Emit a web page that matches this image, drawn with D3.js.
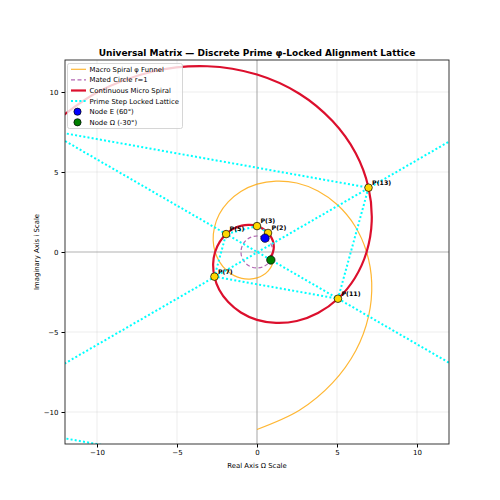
<!DOCTYPE html>
<html>
<head>
<meta charset="utf-8">
<script src="https://cdn.jsdelivr.net/npm/d3@7"></script>
<style>
  body { margin: 0; background: #fff; }
  text { font-family: "DejaVu Sans", sans-serif; }
</style>
</head>
<body>
<svg id="chart" width="500" height="500"></svg>
<script>
// micro spiral (x, y in data units)
let microSpiral = [
  [0.74, -0.43], [0.89, -0.24], [1.00, 0.00], [1.05, 0.28], [1.02, 0.59], [0.90, 0.90],
  [0.69, 1.19], [0.39, 1.44], [0.00, 1.62], [-0.45, 1.69], [-0.95, 1.65], [-1.46, 1.46],
  [-1.93, 1.12], [-2.33, 0.63], [-2.62, 0.00], [-2.74, -0.73], [-2.66, -1.54], [-2.36, -2.36],
  [-1.80, -3.13], [-1.01, -3.78], [0.00, -4.24], [1.19, -4.43], [2.49, -4.31], [3.81, -3.81],
  [5.06, -2.92], [6.11, -1.64], [6.85, 0.00], [7.17, 1.92], [6.97, 4.02], [6.17, 6.17],
  [4.72, 8.18], [2.65, 9.89], [0.00, 11.09], [-3.11, 11.61], [-6.51, 11.28], [-9.98, 9.98],
  [-13.24, 7.64]
];

// macro funnel spiral
let macroSpiral = [
  [0.00, -11.09], [2.65, -9.89], [4.72, -8.18], [6.17, -6.17], [6.97, -4.02], [7.17, -1.92],
  [6.85, 0.00], [6.11, 1.64], [5.06, 2.92], [3.81, 3.81], [2.49, 4.31], [1.19, 4.43],
  [0.00, 4.24], [-1.01, 3.78], [-1.80, 3.13], [-2.36, 2.36], [-2.66, 1.54], [-2.74, 0.73],
  [-2.62, 0.00], [-2.33, -0.63], [-1.93, -1.12], [-1.46, -1.46], [-0.95, -1.65], [-0.45, -1.69],
  [0.00, -1.62], [0.39, -1.44], [0.69, -1.19], [0.90, -0.90], [1.02, -0.59]
];

// prime step chain (the later ones sit outside the view)
let primes = [2, 3, 5, 7, 11, 13, 17, 19, 23, 29, 31, 37];
let primeX = [0.69, 0.00, -1.93, -2.66, 5.06, 6.97, -13.24, -18.24, 34.66, -90.7, -125.0, 327.4];
let primeY = [1.19, 1.62, 1.12, -1.54, -2.92, 4.02, 7.64, -10.53, -20.01, 52.4, -72.2, 189.0];

let nodeNames = ['Node E (60°)', 'Node Ω (-30°)'];
let nodeX = [0.5, 0.866];
let nodeY = [0.866, -0.5];
let nodeColors = ['#0000ff', '#008000'];

let matedRadius = 1;
let xTicks = [-10, -5, 0, 5, 10];
let yTicks = [-10, -5, 0, 5, 10];

let svg = d3.select('#chart');

let x = d3.scaleLinear().domain([-12, 12]).range([65, 449]);
let y = d3.scaleLinear().domain([-12, 12]).range([444, 60]);

svg.append('clipPath').attr('id', 'clip')
  .append('rect')
  .attr('x', 65).attr('y', 60).attr('width', 384).attr('height', 384);

// grid
let grid = svg.append('g');
grid.selectAll('.gx').data(xTicks).enter().append('line')
  .attr('x1', d => x(d)).attr('x2', d => x(d))
  .attr('y1', y(-12)).attr('y2', y(12))
  .attr('stroke', '#b0b0b0').attr('stroke-opacity', 0.3).attr('stroke-width', 0.8);
grid.selectAll('.gy').data(yTicks).enter().append('line')
  .attr('y1', d => y(d)).attr('y2', d => y(d))
  .attr('x1', x(-12)).attr('x2', x(12))
  .attr('stroke', '#b0b0b0').attr('stroke-opacity', 0.3).attr('stroke-width', 0.8);

let plot = svg.append('g').attr('clip-path', 'url(#clip)');

// zero axes
plot.append('line')
  .attr('x1', x(-12)).attr('x2', x(12)).attr('y1', y(0)).attr('y2', y(0))
  .attr('stroke', '#808080').attr('stroke-opacity', 0.5).attr('stroke-width', 1.2);
plot.append('line')
  .attr('x1', x(0)).attr('x2', x(0)).attr('y1', y(-12)).attr('y2', y(12))
  .attr('stroke', '#808080').attr('stroke-opacity', 0.5).attr('stroke-width', 1.2);

let line = d3.line()
  .x(d => x(d[0]))
  .y(d => y(d[1]))
  .curve(d3.curveCatmullRom);

plot.append('path')
  .datum(macroSpiral)
  .attr('d', line)
  .attr('fill', 'none')
  .attr('stroke', '#ffa500').attr('stroke-opacity', 0.8).attr('stroke-width', 1.2);

plot.append('circle')
  .attr('cx', x(0)).attr('cy', y(0))
  .attr('r', x(matedRadius) - x(0))
  .attr('fill', 'none')
  .attr('stroke', '#800080').attr('stroke-opacity', 0.6)
  .attr('stroke-width', 1.2).attr('stroke-dasharray', '4,2.5');

plot.append('path')
  .datum(microSpiral)
  .attr('d', line)
  .attr('fill', 'none')
  .attr('stroke', '#dc0f2d').attr('stroke-width', 2.2);

let chain = primes.map((p, i) => [primeX[i], primeY[i]]);
plot.append('path')
  .datum(chain)
  .attr('d', d3.line().x(d => x(d[0])).y(d => y(d[1])))
  .attr('fill', 'none')
  .attr('stroke', '#00ffff').attr('stroke-width', 2)
  .attr('stroke-dasharray', '2,2.2');

// prime markers in view
let shown = primes.map((p, i) => ({ p: p, x: primeX[i], y: primeY[i] }))
  .filter(d => d.x >= -12 && d.x <= 12 && d.y >= -12 && d.y <= 12);

plot.selectAll('.pm').data(shown).enter().append('circle')
  .attr('cx', d => x(d.x)).attr('cy', d => y(d.y)).attr('r', 3.8)
  .attr('fill', '#ffd700').attr('stroke', '#000').attr('stroke-width', 0.7);

plot.selectAll('.pl').data(shown).enter().append('text')
  .attr('x', d => x(d.x) + 3.5).attr('y', d => y(d.y) - 3)
  .attr('font-size', 6.3).attr('font-weight', 'bold')
  .text(d => `P(${d.p})`);

plot.selectAll('.nd').data(nodeNames).enter().append('circle')
  .attr('cx', (d, i) => x(nodeX[i])).attr('cy', (d, i) => y(nodeY[i])).attr('r', 4.2)
  .attr('fill', (d, i) => nodeColors[i]).attr('stroke', '#000').attr('stroke-width', 0.7);

// axes
let xAxis = d3.axisBottom(x).tickValues(xTicks).tickSizeOuter(0).tickSize(3.5).tickPadding(3);
let yAxis = d3.axisLeft(y).tickValues(yTicks).tickSizeOuter(0).tickSize(3.5).tickPadding(3);

svg.append('g').attr('transform', `translate(0, ${y(-12)})`).call(xAxis)
  .call(g => g.select('.domain').remove())
  .selectAll('text').attr('font-size', 7).attr('font-family', 'DejaVu Sans');
svg.append('g').attr('transform', `translate(${x(-12)}, 0)`).call(yAxis)
  .call(g => g.select('.domain').remove())
  .selectAll('text').attr('font-size', 7).attr('font-family', 'DejaVu Sans');

svg.append('rect')
  .attr('x', 65).attr('y', 60).attr('width', 384).attr('height', 384)
  .attr('fill', 'none').attr('stroke', '#222').attr('stroke-width', 0.9);

svg.append('text')
  .attr('x', 257).attr('y', 56).attr('text-anchor', 'middle')
  .attr('font-size', 9).attr('font-weight', 'bold')
  .text('Universal Matrix — Discrete Prime φ-Locked Alignment Lattice');

svg.append('text')
  .attr('x', 257).attr('y', 468).attr('text-anchor', 'middle')
  .attr('font-size', 6.9)
  .text('Real Axis Ω Scale');

svg.append('text')
  .attr('transform', 'translate(39, 252) rotate(-90)')
  .attr('text-anchor', 'middle')
  .attr('font-size', 6.9)
  .text('Imaginary Axis i Scale');

// legend
let legendItems = [
  { label: 'Macro Spiral φ Funnel', type: 'line', color: '#ffa500', op: 0.8, w: 1.2, dash: null },
  { label: 'Mated Circle r=1', type: 'line', color: '#800080', op: 0.6, w: 1.2, dash: '4,2.5' },
  { label: 'Continuous Micro Spiral', type: 'line', color: '#dc0f2d', op: 1, w: 2.2, dash: null },
  { label: 'Prime Step Locked Lattice', type: 'line', color: '#00ffff', op: 1, w: 2, dash: '2,2.2' },
  { label: nodeNames[0], type: 'dot', color: nodeColors[0] },
  { label: nodeNames[1], type: 'dot', color: nodeColors[1] }
];

let lg = svg.append('g');
lg.append('rect')
  .attr('x', 67.5).attr('y', 63.5).attr('width', 115).attr('height', 65).attr('rx', 2)
  .attr('fill', '#fff').attr('fill-opacity', 0.8)
  .attr('stroke', '#cccccc').attr('stroke-width', 0.8);

let rows = lg.selectAll('.row').data(legendItems).enter().append('g')
  .attr('transform', (d, i) => `translate(0, ${69.3 + i * 10.6})`);

rows.filter(d => d.type === 'line').append('line')
  .attr('x1', 71).attr('x2', 86).attr('y1', 0).attr('y2', 0)
  .attr('stroke', d => d.color).attr('stroke-opacity', d => d.op)
  .attr('stroke-width', d => d.w).attr('stroke-dasharray', d => d.dash);

rows.filter(d => d.type === 'dot').append('circle')
  .attr('cx', 77.5).attr('cy', 0).attr('r', 3.6)
  .attr('fill', d => d.color).attr('stroke', '#000').attr('stroke-width', 0.7);

rows.append('text')
  .attr('x', 89.5).attr('y', 2.4)
  .attr('font-size', 6.9)
  .text(d => d.label);
</script>
</body>
</html>
